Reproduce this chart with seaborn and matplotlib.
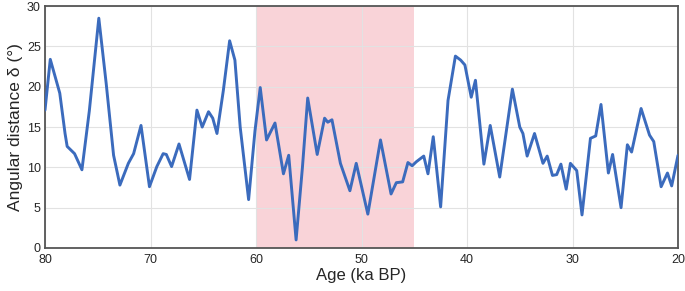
import numpy as np
import pandas as pd
import seaborn as sns
import matplotlib.pyplot as plt
from matplotlib.ticker import MultipleLocator

# Values
age = [80.0, 79.5, 78.6, 78.1, 77.9, 77.2, 76.5, 75.8, 74.9, 74.2, 73.5, 72.9, 72.1, 71.6,
       70.9, 70.1, 69.4, 68.8, 68.5, 68.0, 67.3, 66.3, 65.6, 65.1, 64.5, 64.1, 63.7, 63.1,
       62.5, 62.0, 61.5, 60.7, 60.1, 59.6, 59.0, 58.2, 57.4, 56.9, 56.2, 55.6, 55.1, 54.2,
       53.5, 53.2, 52.8, 52.0, 51.1, 50.5, 49.4, 48.2, 47.2, 46.7, 46.1, 45.6, 45.2, 44.8,
       44.1, 43.7, 43.2, 42.5, 41.8, 41.1, 40.6, 40.2, 39.6, 39.2, 38.4, 37.8, 36.9, 35.7,
       35.0, 34.7, 34.3, 33.6, 32.8, 32.4, 31.9, 31.5, 31.1, 30.6, 30.2, 29.6, 29.1, 28.3,
       27.8, 27.3, 26.6, 26.2, 25.4, 24.8, 24.4, 23.5, 22.7, 22.3, 21.6, 21.0, 20.6, 20.0]
delta = [17.1, 23.4, 19.2, 14.2, 12.6, 11.7, 9.7, 17.0, 28.5, 20.4, 11.5, 7.8, 10.5, 11.7,
         15.2, 7.6, 10.1, 11.7, 11.6, 10.1, 12.9, 8.5, 17.1, 15.0, 16.9, 16.1, 14.2, 19.5,
         25.7, 23.3, 15.0, 6.0, 14.5, 19.9, 13.4, 15.5, 9.2, 11.5, 1.0, 10.0, 18.6, 11.6,
         16.1, 15.6, 15.9, 10.5, 7.1, 10.5, 4.2, 13.4, 6.7, 8.1, 8.2, 10.6, 10.2, 10.7,
         11.4, 9.2, 13.8, 5.1, 18.3, 23.8, 23.3, 22.7, 18.7, 20.8, 10.4, 15.2, 8.8, 19.7,
         15.0, 14.2, 11.4, 14.2, 10.5, 11.4, 9.0, 9.1, 10.4, 7.3, 10.5, 9.6, 4.1, 13.6,
         13.9, 17.8, 9.3, 11.6, 5.0, 12.8, 11.9, 17.3, 14.0, 13.2, 7.6, 9.3, 7.7, 11.5]
shade_start, shade_end = 60, 45

df = pd.DataFrame({"age": age, "delta": delta})

sns.set_style("white")
plt.rcParams["font.family"] = ["Liberation Sans", "DejaVu Sans"]

fig = plt.figure(figsize=(6.85, 2.91), dpi=100)
ax = fig.add_axes([0.0657, 0.1478, 0.9241, 0.8312])

ax.axvspan(shade_end, shade_start, color="#f9d3d8", lw=0, zorder=0)
sns.lineplot(data=df, x="age", y="delta", ax=ax, color="#3b6bbd", lw=2.1,
             sort=False, zorder=3)

ax.set_xlim(80, 20)
ax.set_ylim(0, 30)
ax.xaxis.set_major_locator(MultipleLocator(10))
ax.xaxis.set_minor_locator(MultipleLocator(2))
ax.yaxis.set_major_locator(MultipleLocator(5))
ax.grid(True, which="major", color="#e2e2e2", lw=0.8, zorder=1)
ax.set_axisbelow(True)
ax.tick_params(axis="x", which="major", direction="in", length=4, color="#666666",
               labelsize=9, pad=4)
ax.tick_params(axis="x", which="minor", direction="in", length=2.5, color="#666666")
ax.tick_params(axis="y", which="major", length=0, labelsize=9, pad=3)
for s in ax.spines.values():
    s.set_color("#555555")
    s.set_linewidth(1.3)

ax.set_xlabel("Age (ka BP)", fontsize=12, labelpad=2)
ax.set_ylabel("Angular distance δ (°)", fontsize=12.5, labelpad=3)

fig.savefig("out.png", dpi=100)
